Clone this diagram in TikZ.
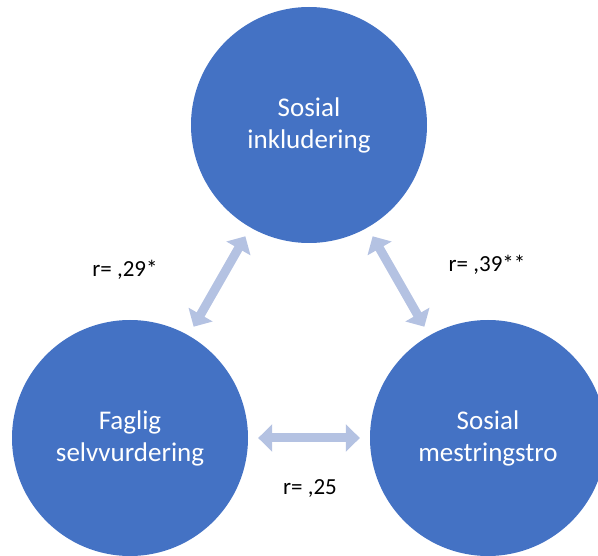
\documentclass[tikz,border=0pt]{standalone}
\usepackage{fontspec}
\setmainfont{Carlito}
\usetikzlibrary{arrows.meta}
\definecolor{bubble}{HTML}{4472C4}
\definecolor{linkarrow}{HTML}{B4C2E2}
\begin{document}
\begin{tikzpicture}[x=1pt,y=-1pt,
  bubble/.style={circle, fill=bubble, minimum size=236pt, inner sep=0pt,
    text=white, align=center, font=\fontsize{27}{32}\selectfont},
  link/.style={linkarrow, line width=9pt,
    {Triangle[width=27pt,length=14pt]}-{Triangle[width=27pt,length=14pt]},
    shorten <=10pt, shorten >=10pt},
  rlabel/.style={font=\fontsize{23}{27}\selectfont, text=black}]
  \useasboundingbox (0,0) rectangle (598,556);
  % the three constructs
  \node[bubble] (incl) at (309,125) {Sosial\\inkludering};
  \node[bubble] (self) at (130,438) {Faglig\\selvvurdering};
  \node[bubble] (mast) at (488,438) {Sosial\\mestringstro};
  % correlations between them
  \draw[link] (incl) -- (self);
  \draw[link] (incl) -- (mast);
  \draw[link] (self) -- (mast);
  \node[rlabel] (r1) at (125,270) {r= ,29*};
  \node[rlabel] (r2) at (487,265) {r= ,39**};
  \node[rlabel] (r3) at (310,489) {r= ,25};
\end{tikzpicture}
\end{document}
